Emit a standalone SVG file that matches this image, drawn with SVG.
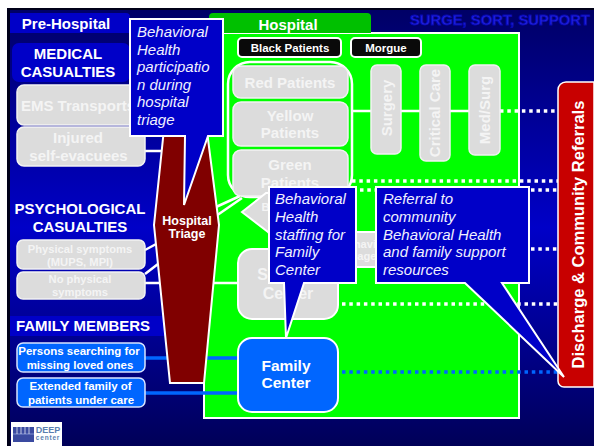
<svg xmlns="http://www.w3.org/2000/svg" width="594" height="446" viewBox="0 0 594 446">
<style>
text{font-family:"Liberation Sans",Arial,sans-serif;text-anchor:middle}
.hd{font-weight:bold;fill:#fff;font-size:15px}
.gray{fill:#dcdcdc;stroke:#f2f2f2;stroke-width:1.5}
.gt{font-weight:bold;fill:#f4f4f4;font-size:15px}
.gs{font-weight:bold;fill:#f4f4f4;font-size:11.2px}
.blk{fill:#0a0a0a;stroke:#fff;stroke-width:2}
.bt{font-weight:bold;fill:#fff;font-size:11.5px}
.blue{fill:#0066ff;stroke:#d8e4ff;stroke-width:1.5}
.call{fill:#0000c8;stroke:#fff;stroke-width:2;stroke-linejoin:miter}
.ct{font-style:italic;fill:#f0f0ff;font-size:15px;text-anchor:start}
.w{stroke:#fff;stroke-width:2.5;fill:none}
.wd{stroke:#fff;stroke-width:3.5;stroke-dasharray:3.5 3.8;fill:none}
.bl{stroke:#0066ff;stroke-width:3.5;fill:none}
.bd{stroke:#0066ff;stroke-width:3.5;stroke-dasharray:3.5 3.8;fill:none}
</style>
<defs>
<linearGradient id="bg" x1="0" y1="0" x2="0" y2="1">
<stop offset="0" stop-color="#000066"/><stop offset="0.5" stop-color="#0000c8"/><stop offset="1" stop-color="#000058"/>
</linearGradient>
</defs>
<rect x="0" y="0" width="594" height="446" fill="#fff"/>
<rect x="7" y="8" width="587" height="438" fill="#000018"/>
<rect x="10" y="10" width="584" height="436" fill="url(#bg)"/>

<g id="hospital-area">
<rect x="204" y="33" width="315" height="385" fill="#00ff00" stroke="#fff" stroke-width="2"/>
<path d="M209 33V17a4 4 0 0 1 4-4H367a4 4 0 0 1 4 4V33Z" fill="#00c000"/>
<text class="hd" x="288" y="30">Hospital</text>
</g>
<g id="pre-hospital-header">
<path d="M10 13H126a4 4 0 0 1 4 4V33H10Z" fill="#0000c8"/>
<text class="hd" x="66" y="29">Pre-Hospital</text>
</g>
<text x="500" y="25" font-size="14.800" font-weight="bold" fill="#2222e6" stroke="#0808b0" stroke-width="0.8">SURGE, SORT, SUPPORT</text>

<g id="connectors">
<path class="w" d="M145 151H166M145 250L158 243M145 274L158 264M145 283H160M212 283H238M216 207L240 196M216 216L242 198M352 111H500"/>
<path class="wd" d="M500 111H558M352 181H558M360 190H375M531 190H558M342 304H558M531 249H558"/>
<path class="bl" d="M145 358H238M145 393H238"/>
<path class="bd" d="M342 372H558"/>
</g>

<g id="triage-group">
<rect x="228" y="62" width="124" height="135" rx="22" fill="#00ff00" stroke="#fff" stroke-width="2.5"/>
<rect x="233" y="66" width="115" height="32" rx="8" class="gray"/>
<text class="gt" x="290" y="88">Red Patients</text>
<rect x="233" y="102" width="115" height="44" rx="8" class="gray"/>
<text class="gt" x="290" y="121">Yellow</text><text class="gt" x="290" y="138">Patients</text>
<rect x="233" y="150" width="115" height="46" rx="8" class="gray"/>
<text class="gt" x="290" y="170">Green</text><text class="gt" x="290" y="188">Patients</text>
</g>
<g id="units">
<rect x="371" y="65" width="30" height="89" rx="6" class="gray"/>
<text class="gt" transform="translate(392,108) rotate(-90)">Surgery</text>
<rect x="420" y="65" width="30" height="96" rx="6" class="gray"/>
<text class="gt" transform="translate(440,113) rotate(-90)">Critical Care</text>
<rect x="469" y="65" width="31" height="90" rx="6" class="gray"/>
<text class="gt" transform="translate(490,110) rotate(-90)">Med/Surg</text>
</g>
<g id="black-patients"><rect x="238" y="38" width="103" height="19" rx="4" class="blk"/><text class="bt" x="290" y="52">Black Patients</text></g>
<g id="morgue"><rect x="351" y="38" width="70" height="19" rx="4" class="blk"/><text class="bt" x="386" y="52">Morgue</text></g>

<g id="behavioral-triage">
<path d="M242 212L266 193H300V232H376V267H300L268 232Z" fill="#dcdcdc" stroke="#fff" stroke-width="2"/>
<text class="gs" x="290" y="211">Behavioral</text>
<text class="gs" x="368" y="248">Behavioral</text>
<text class="gs" x="360" y="260">Triage</text>
</g>
<g id="support-center">
<rect x="238" y="249" width="100" height="70" rx="14" fill="#dcdcdc" stroke="#fff" stroke-width="2"/>
<text class="gt" x="288" y="280" style="font-size:16px">Support</text>
<text class="gt" x="288" y="299" style="font-size:16px">Center</text>
</g>
<g id="family-center">
<rect x="238" y="338" width="100" height="74" rx="14" fill="#0066ff" stroke="#fff" stroke-width="2"/>
<text class="hd" x="286" y="371" style="font-size:15.500px">Family</text><text class="hd" x="286" y="388" style="font-size:15.500px">Center</text>
</g>

<g id="medical-casualties">
<rect x="12" y="43" width="118" height="39" rx="7" fill="#0000c8"/>
<text class="hd" x="68" y="59">MEDICAL</text><text class="hd" x="68" y="77">CASUALTIES</text>
</g>
<g id="ems-transports"><rect x="17" y="85" width="128" height="40" rx="7" class="gray"/><text class="gt" x="78" y="111">EMS Transports</text></g>
<g id="injured"><rect x="17" y="127" width="128" height="39" rx="7" class="gray"/><text class="gt" x="78" y="143">Injured</text><text class="gt" x="78.500" y="161">self-evacuees</text></g>
<text class="hd" x="80" y="214">PSYCHOLOGICAL</text><text class="hd" x="80" y="232">CASUALTIES</text>
<g id="physical"><rect x="17" y="240" width="128" height="29" rx="6" class="gray"/><text class="gs" x="80" y="253">Physical symptoms</text><text class="gs" x="80" y="266">(MUPS, MPI)</text></g>
<g id="no-physical"><rect x="17" y="272" width="128" height="27" rx="6" class="gray"/><text class="gs" x="80" y="283">No physical</text><text class="gs" x="80" y="296">symptoms</text></g>
<g id="family-members"><rect x="10" y="316" width="154" height="20" fill="#0000c8"/><text class="hd" x="83" y="331">FAMILY MEMBERS</text></g>
<g id="persons"><rect x="17" y="343" width="128" height="29" rx="6" class="blue"/><text class="bt" x="79" y="355">Persons searching for</text><text class="bt" x="80" y="369">missing loved ones</text></g>
<g id="extended"><rect x="17" y="378" width="128" height="29" rx="6" class="blue"/><text class="bt" x="80.500" y="390">Extended family of</text><text class="bt" x="81" y="404">patients under care</text></g>

<g id="hospital-triage">
<path d="M167 100H203L219 225L204 383H170L154 225Z" fill="#800000" stroke="#fff" stroke-width="2"/>
<text class="bt" x="187" y="225" style="font-size:12.500px">Hospital</text><text class="bt" x="187" y="238" style="font-size:12.500px">Triage</text>
</g>

<g id="discharge">
<path d="M594 82H566a8 8 0 0 0-8 8V381a6 6 0 0 0 6 6H594Z" fill="#c80000" stroke="#fff" stroke-width="1.500"/>
<text transform="translate(584,234.500) rotate(-90)" font-size="16.500" font-weight="bold" fill="#fff">Discharge &amp; Community Referrals</text>
</g>

<g id="callout-triage">
<path class="call" d="M130 19H223V136H208L184 205L185 136H130Z"/>
<text class="ct" x="137" y="37">Behavioral</text><text class="ct" x="137" y="55">Health</text><text class="ct" x="137" y="72">participatio</text><text class="ct" x="137" y="90">n during</text><text class="ct" x="137" y="107">hospital</text><text class="ct" x="137" y="125">triage</text>
</g>
<g id="callout-staffing">
<path class="call" d="M269 187H356V283H304L286 338L284 283H269Z"/>
<text class="ct" x="275" y="204">Behavioral</text><text class="ct" x="275" y="222">Health</text><text class="ct" x="275" y="240">staffing for</text><text class="ct" x="275" y="257">Family</text><text class="ct" x="275" y="275">Center</text>
</g>
<g id="callout-referral">
<path class="call" d="M376 187H529V283H502L564 377L465 283H376Z"/>
<text class="ct" x="383" y="204">Referral to</text><text class="ct" x="383" y="222">community</text><text class="ct" x="383" y="240">Behavioral Health</text><text class="ct" x="383" y="257">and family support</text><text class="ct" x="383" y="275">resources</text>
</g>

<g id="logo">
<rect x="11" y="422" width="51" height="24" fill="#fff"/>
<rect x="13" y="427" width="21" height="15" fill="#3a4aa0"/>
<path d="M13 434H34" stroke="#7f8fd0" stroke-width="1"/>
<path d="M17 427V434M21 427V434M25 427V434M29 427V434" stroke="#fff" stroke-width="0.7"/>
<text x="48" y="433" font-size="9" font-weight="bold" fill="#5a7fb0">DEEP</text>
<text x="48" y="440" font-size="6.500" font-weight="bold" fill="#5a7fb0" letter-spacing="0.8">center</text>
</g>
</svg>
